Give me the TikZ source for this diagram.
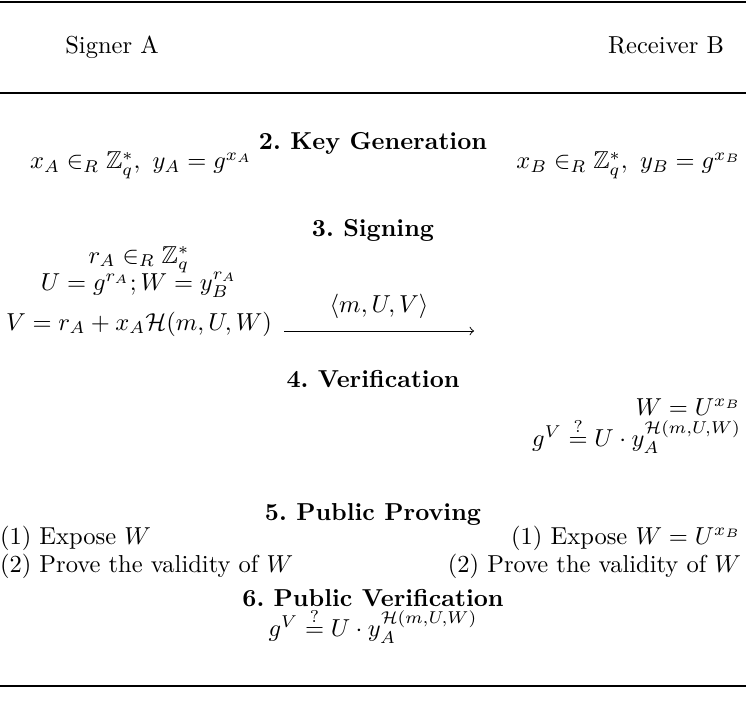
\documentclass[tikz,border=0pt]{standalone}
\usepackage{amsmath,amssymb}
\begin{document}
\begin{tikzpicture}[x=0.408pt,y=-0.408pt,
  every node/.style={inner sep=0pt,outer sep=0pt},
  head/.style={anchor=base,font=\bfseries},
  rule/.style={line width=0.8pt},
  msg/.style={->,line width=0.4pt}]
\useasboundingbox (0,0) rectangle (746,707);
% horizontal rules
\draw[rule] (0,2) -- (746,2);
\draw[rule] (0,93) -- (746,93);
\draw[rule] (0,686) -- (746,686);
% parties
\node[anchor=base] (sa) at (112,54) {Signer A};
\node[anchor=base] (rb) at (666,54) {Receiver B};
% 2. key generation
\node[head] (h2) at (373,150) {2.\ Key Generation};
\node[anchor=base west] (kga) at (30,169) {$x_A \in_R \mathbb{Z}_q^*,\ y_A = g^{x_A}$};
\node[anchor=base east] (kgb) at (741,169) {$x_B \in_R \mathbb{Z}_q^*,\ y_B = g^{x_B}$};
% 3. signing
\node[head] (h3) at (373,236) {3.\ Signing};
\node[anchor=base] (s1) at (139,263) {$r_A \in_R \mathbb{Z}_q^*$};
\node[anchor=base] (s2) at (139,290) {$U = g^{r_A}; W = y_B^{r_A}$};
\node[anchor=base] (s3) at (139,330) {$V = r_A + x_A\mathcal{H}(m,U,W)$};
\coordinate (arrEnd) at (474,331);
\draw[msg] (s3.east |- arrEnd) ++(5pt,0) coordinate (arrStart) -- (arrEnd)
  node[midway,above=5pt] (lbl) {$\langle m,U,V\rangle$};
% 4. verification
\node[head] (h4) at (373,387) {4.\ Verification};
\node[anchor=base east] (v1) at (741,415) {$W = U^{x_B}$};
\node[anchor=base east] (v2) at (741,446) {$g^V \stackrel{?}{=} U\cdot y_A^{\mathcal{H}(m,U,W)}$};
% 5. public proving
\node[head] (h5) at (373,520) {5.\ Public Proving};
\node[anchor=base west] (pa1) at (0,544) {(1) Expose $W$};
\node[anchor=base west] (pa2) at (0,572) {(2) Prove the validity of $W$};
\node[anchor=base east] (pb1) at (741,544) {(1) Expose $W = U^{x_B}$};
\node[anchor=base east] (pb2) at (741,572) {(2) Prove the validity of $W$};
% 6. public verification
\node[head] (h6) at (373,606) {6.\ Public Verification};
\node[anchor=base] (pv) at (373,636) {$g^V \stackrel{?}{=} U\cdot y_A^{\mathcal{H}(m,U,W)}$};
\end{tikzpicture}
\end{document}
